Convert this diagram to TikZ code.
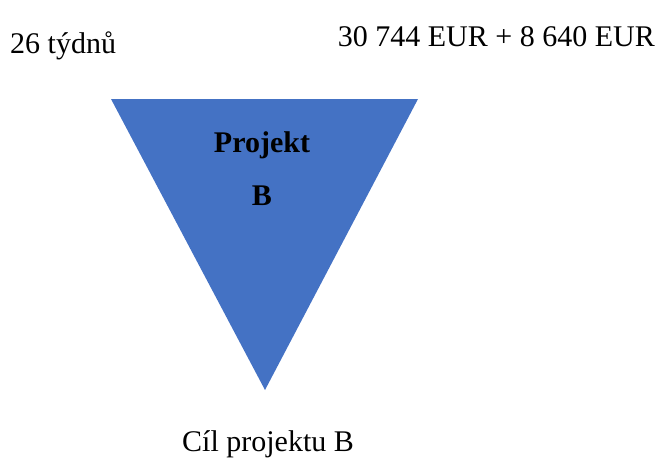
\documentclass[tikz,border=0pt]{standalone}
\usepackage{fontspec}
\setmainfont{Liberation Serif}
\definecolor{triblue}{HTML}{4472C4}
\tikzset{lbl/.style={inner sep=0pt,font=\fontsize{30}{36}\selectfont},
  blbl/.style={inner sep=0pt,font=\fontsize{30}{36}\selectfont\bfseries}}
\begin{document}
\begin{tikzpicture}[x=1pt,y=-1pt]
\useasboundingbox (0,0) rectangle (661,458);
\fill[triblue] (111,99) coordinate (tl) -- (418,99) coordinate (tr) -- (265,390) coordinate (bt) -- cycle;
\node[blbl,anchor=base] (p1) at (262,152) {Projekt};
\node[blbl,anchor=base] (p2) at (262,205) {B};
\node[lbl,anchor=base west] (wk) at (10,53) {26 týdnů};
\node[lbl,anchor=base east] (cost) at (655,46) {30 744 EUR + 8 640 EUR};
\node[lbl,anchor=base] (goal) at (268,451) {Cíl projektu B};
\end{tikzpicture}
\end{document}
